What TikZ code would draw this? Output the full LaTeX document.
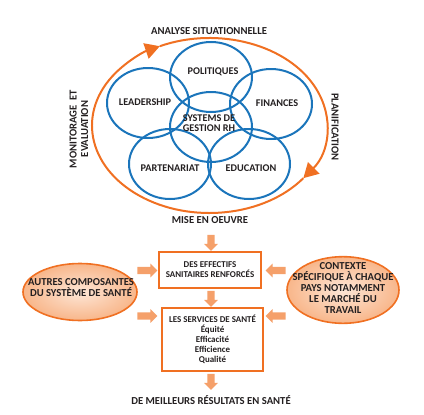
\documentclass[tikz,border=0pt]{standalone}
\usepackage{fontspec}
\setmainfont{Carlito}
\usepackage{tikz}
\usetikzlibrary{arrows.meta,shapes.geometric,shapes.arrows}
\definecolor{whoOrange}{HTML}{F07022}
\definecolor{whoBlue}{HTML}{1B75BB}
\definecolor{whoPeach}{HTML}{F8B68A}
\definecolor{whoPeachLight}{HTML}{FDE6D6}
\definecolor{whoArrow}{HTML}{F5A06A}
\definecolor{whoText}{HTML}{231F20}
\tikzset{
  petal/.style={
    ellipse,
    draw=whoBlue,
    line width=1.5pt,
    minimum width=61.5pt,
    minimum height=52.5pt,
    inner sep=0pt
  },
  petaltext/.style={
    font=\bfseries\fontsize{7.7}{7.5}\selectfont,
    text=whoText,
    align=center,
    inner sep=0pt
  },
  cyclelabel/.style={
    font=\bfseries\fontsize{8}{8.6}\selectfont,
    text=whoText,
    align=center,
    inner sep=0pt
  },
  cyclearc/.style={
    draw=whoOrange,
    line width=1.5pt,
    -{Triangle[length=11pt,width=12pt]}
  },
  outcomebox/.style={
    rectangle,
    draw=whoOrange,
    line width=1.5pt,
    fill=white,
    align=center,
    font=\bfseries\fontsize{6.7}{7.5}\selectfont,
    text=whoText,
    inner sep=0pt
  },
  contextblob/.style={
    ellipse,
    draw=whoOrange,
    line width=1.2pt,
    inner color=whoPeachLight,
    outer color=whoPeach,
    inner sep=0pt
  },
  blobtext/.style={
    align=center,
    font=\bfseries\fontsize{8}{8.3}\selectfont,
    text=whoText,
    inner sep=0pt
  },
  blockarrow/.style={
    single arrow,
    fill=whoArrow,
    draw=none,
    inner sep=2.6pt,
    single arrow head extend=2.4pt
  },
  downarrow/.style={blockarrow, minimum height=12pt, shape border rotate=270},
  rightarrow/.style={blockarrow, minimum height=15pt},
  leftarrow/.style={blockarrow, minimum height=15pt, shape border rotate=180}
}
\begin{document}
\begin{tikzpicture}[x=0.75pt,y=-0.75pt]
  \useasboundingbox (0,0) rectangle (424,414);

  % cycle round the building blocks
  \coordinate (ringc) at (209.5,125.5);
  \draw[cyclearc] (ringc) ++(115:88.125pt and 65.625pt)
    arc[start angle=115, end angle=-37, x radius=88.125pt, y radius=65.625pt];
  \draw[cyclearc] (ringc) ++(-37:88.125pt and 65.625pt)
    arc[start angle=-37, end angle=-245, x radius=88.125pt, y radius=65.625pt];

  \node[cyclelabel] (analyse) at (209,31) {ANALYSE SITUATIONNELLE};
  \node[cyclelabel] (miseoeuvre) at (210,220) {MISE EN OEUVRE};
  \node[cyclelabel, rotate=90] (monitor) at (79,129) {MONITORAGE\ \ ET\\EVALUATION};
  \node[cyclelabel, rotate=-90] (planif) at (335,127) {PLANIFICATION};

  % building blocks
  \node[petal] (pol) at (211,77) {};
  \node[petal] (lead) at (148,103) {};
  \node[petal] (fin) at (271,104) {};
  \node[petal] (sys) at (211,127) {};
  \node[petal] (part) at (170,164) {};
  \node[petal] (edu) at (249,164) {};

  \node[petaltext] (poltext) at (213,72) {POLITIQUES};
  \node[petaltext] (leadtext) at (145,102) {LEADERSHIP};
  \node[petaltext] (fintext) at (277,103) {FINANCES};
  \node[petaltext] (systext) at (209,123) {SYSTEMS DE\\GESTION RH};
  \node[petaltext] (parttext) at (170,168) {PARTENARIAT};
  \node[petaltext] (edutext) at (251,168) {EDUCATION};

  % results
  \node[outcomebox, minimum width=76.5pt, minimum height=27pt] (effectifs) at (210,270)
    {DES EFFECTIFS\\SANITAIRES RENFORCÉS};
  \node[outcomebox, minimum width=75.75pt, minimum height=47.25pt] (services) at (212.5,339.5)
    {LES SERVICES DE SANTÉ\\Équité\\Efficacité\\Efficience\\Qualité};
  \node[cyclelabel] (resultats) at (211,400) {DE MEILLEURS RÉSULTATS EN SANTÉ};

  \node[contextblob, minimum width=85.5pt, minimum height=42.75pt] (autres) at (80,292) {};
  \node[blobtext] (autrestext) at (81,288) {AUTRES COMPOSANTES\\DU SYSTÈME DE SANTÉ};
  \node[contextblob, minimum width=84pt, minimum height=50pt] (contexte) at (343,290) {};
  \node[blobtext] (contextetext) at (343,288)
    {CONTEXTE\\SPÉCIFIQUE À CHAQUE\\PAYS NOTAMMENT\\LE MARCHÉ DU\\TRAVAIL};

  \node[downarrow] (d1) at (211,241) {};
  \node[downarrow] (d2) at (211,297) {};
  \node[downarrow] (d3) at (211,380) {};
  \node[rightarrow] (r1) at (145.5,270.5) {};
  \node[rightarrow] (r2) at (145.5,316) {};
  \node[leftarrow] (l1) at (277.5,270.5) {};
  \node[leftarrow] (l2) at (277.5,316) {};
\end{tikzpicture}
\end{document}
